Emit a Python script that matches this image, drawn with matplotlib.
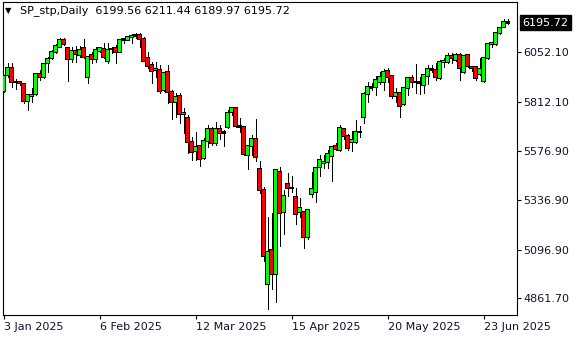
import matplotlib
matplotlib.use('Agg')
import matplotlib.pyplot as plt
import matplotlib.transforms as mtransforms
import numpy as np
import pandas as pd

# daily bars, every weekday except Good Friday
dates = [d for d in pd.bdate_range('2025-01-03', '2025-07-01') if d != pd.Timestamp('2025-04-18')]

opens = [5865, 5942, 5977, 5907, 5910, 5900, 5818, 5840, 5850, 5945,
         5931, 6002, 6026, 6054, 6079, 6112, 6071, 6020, 6058, 6041,
         6073, 5934, 6040, 6018, 6060, 6066, 6010, 6066, 6071, 6055,
         6112, 6112, 6124, 6130, 6136, 6116, 6023, 5991, 5966, 5966,
         5870, 5955, 5862, 5813, 5841, 5752, 5732, 5616, 5576, 5599,
         5539, 5624, 5681, 5615, 5681, 5664, 5692, 5765, 5781, 5695,
         5692, 5555, 5600, 5631, 5486, 5386, 4929, 5095, 4978, 5471,
         5278, 5415, 5397, 5350, 5278, 5278, 5160, 5366, 5378, 5499,
         5515, 5520, 5552, 5599, 5579, 5679, 5649, 5616, 5620, 5665,
         5737, 5850, 5882, 5883, 5910, 5907, 5962, 5937, 5842, 5854,
         5800, 5878, 5926, 5910, 5906, 5892, 5939, 5970, 5967, 5926,
         6004, 6007, 6034, 6015, 6039, 5955, 6039, 5980, 5983, 5946,
         5915, 6023, 6091, 6091, 6147, 6176, 6199.56]
highs = [5942, 5999, 5999, 5921, 5915, 5905, 5850, 5877, 5953, 5966,
         6002, 6031, 6063, 6092, 6120, 6120, 6079, 6079, 6084, 6084,
         6116, 6031, 6055, 6079, 6079, 6095, 6095, 6079, 6087, 6115,
         6120, 6128, 6141, 6144, 6144, 6125, 6055, 6007, 6007, 5991,
         5958, 5991, 5870, 5853, 5853, 5781, 5749, 5644, 5668, 5603,
         5636, 5700, 5692, 5716, 5700, 5676, 5773, 5786, 5786, 5732,
         5695, 5603, 5652, 5728, 5526, 5399, 5257, 5276, 5487, 5499,
         5386, 5470, 5453, 5394, 5349, 5284, 5292, 5471, 5499, 5555,
         5555, 5579, 5600, 5615, 5700, 5684, 5655, 5673, 5725, 5695,
         5862, 5910, 5905, 5937, 5955, 5971, 5975, 5942, 5878, 5862,
         5886, 5934, 5942, 5996, 5934, 5948, 5991, 5991, 5999, 6015,
         6023, 6047, 6050, 6050, 6047, 6039, 6044, 5986, 5986, 6023,
         6026, 6096, 6104, 6149, 6176, 6213, 6211.44]
lows = [5862, 5931, 5886, 5873, 5894, 5805, 5773, 5813, 5845, 5918,
        5928, 5958, 6018, 6047, 6076, 6087, 5915, 6007, 6007, 6031,
        6023, 5905, 5999, 6007, 6055, 6023, 6000, 6047, 5999, 6052,
        6099, 6112, 6095, 6120, 6079, 6008, 5974, 5905, 5931, 5857,
        5866, 5808, 5729, 5741, 5708, 5660, 5563, 5531, 5531, 5503,
        5534, 5595, 5603, 5603, 5631, 5599, 5684, 5749, 5689, 5668,
        5555, 5487, 5555, 5526, 5373, 5044, 4812, 4907, 4845, 5116,
        5173, 5358, 5378, 5221, 5257, 5103, 5147, 5353, 5329, 5455,
        5491, 5494, 5431, 5579, 5576, 5631, 5579, 5576, 5615, 5641,
        5712, 5813, 5870, 5846, 5899, 5870, 5910, 5829, 5813, 5741,
        5797, 5846, 5883, 5854, 5850, 5857, 5899, 5958, 5918, 5923,
        5983, 5999, 5999, 6012, 5918, 5950, 5979, 5963, 5918, 5942,
        5910, 6020, 6079, 6087, 6141, 6173, 6189.97]
closes = [5937, 5977, 5907, 5910, 5905, 5818, 5844, 5846, 5945, 5931,
          5995, 6020, 6052, 6083, 6112, 6092, 6018, 6058, 6042, 6063,
          6028, 6028, 6018, 6063, 6071, 6028, 6063, 6068, 6055, 6112,
          6114, 6124, 6130, 6134, 6115, 6012, 5987, 5963, 5973, 5866,
          5950, 5862, 5813, 5837, 5752, 5760, 5620, 5571, 5592, 5534,
          5624, 5679, 5615, 5679, 5663, 5668, 5760, 5781, 5695, 5692,
          5558, 5600, 5631, 5544, 5386, 5068, 5085, 4978, 5483, 5273,
          5358, 5397, 5394, 5268, 5297, 5157, 5289, 5389, 5491, 5531,
          5523, 5560, 5592, 5584, 5684, 5649, 5587, 5628, 5665, 5668,
          5850, 5883, 5886, 5918, 5931, 5958, 5934, 5842, 5854, 5794,
          5878, 5926, 5910, 5907, 5902, 5942, 5970, 5967, 5931, 6007,
          6012, 6034, 6023, 6039, 5975, 6034, 5986, 5975, 5926, 5971,
          6023, 6091, 6099, 6144, 6168, 6197, 6195.72]

price_ticks = [6052.10, 5812.10, 5576.90, 5336.90, 5096.90, 4861.70]
tick_dates = ['2025-01-03', '2025-02-06', '2025-03-12', '2025-04-15', '2025-05-20', '2025-06-23']
tick_labels = ['3 Jan 2025', '6 Feb 2025', '12 Mar 2025', '15 Apr 2025', '20 May 2025', '23 Jun 2025']
title = 'SP_stp,Daily  6199.56 6211.44 6189.97 6195.72'
last_price = closes[-1]

W, H = 580, 340
fig = plt.figure(figsize=(W / 100, H / 100), dpi=100)
fig.patch.set_facecolor('white')
ax = fig.add_axes([2.5 / W, 1 - 315 / H, 514 / W, 313 / H])

ymin, ymax = 4781, 6295.5
px = (ymax - ymin) / 313.0   # price per screen pixel

x = np.arange(len(opens))
o = np.array(opens, dtype=float)
c = np.array(closes, dtype=float)
up = c >= o
cols = np.where(up, '#00ff00', '#ff0000')
bot = np.minimum(o, c)
top = np.maximum(o, c)

ax.vlines(x, lows, highs, color='black', lw=0.72, antialiased=False, zorder=2)
# black outline block (3 px) with a 1 px coloured core
ax.bar(x, np.maximum(top - bot, 0) + px * 1.1, bottom=bot - px * 0.55, width=0.8,
       color='black', linewidth=0, antialiased=False, snap=False, zorder=3)
core_h = np.maximum(top - bot - px * 0.9, 0)
ax.bar(x, core_h, bottom=bot + px * 0.45, width=0.3, color=cols, linewidth=0,
       antialiased=False, snap=False, zorder=4)

ax.set_xlim(-0.25, 128.25)
ax.set_ylim(ymin, ymax)

for s in ax.spines.values():
    s.set_linewidth(0.8)
    s.set_color('black')

ax.yaxis.tick_right()
ax.set_yticks(price_ticks)
ax.set_yticklabels(['%.2f' % v for v in price_ticks])
ax.tick_params(axis='y', length=3, width=0.8, pad=2, labelsize=8, labelcolor='#101030')

date_idx = [dates.index(pd.Timestamp(d)) for d in tick_dates]
ax.set_xticks(date_idx)
ax.set_xticklabels(tick_labels)
ax.tick_params(axis='x', length=3, width=0.8, pad=2, labelsize=8, labelcolor='#101030')
for lab in ax.get_xticklabels():
    lab.set_ha('left')

# current price marker on the price scale
trans = mtransforms.blended_transform_factory(ax.transAxes, ax.transData)
ax.text(1.012, last_price, '%.2f' % last_price, transform=trans, ha='left', va='center',
        fontsize=8, color='white',
        bbox=dict(boxstyle='square,pad=0.2', facecolor='black', edgecolor='black'))

fig.text(5 / W, 1 - 11 / H, '\u25BC', fontsize=6, va='center', ha='left')
fig.text(20 / W, 1 - 11 / H, title, fontsize=8, va='center', ha='left', color='black')

plt.savefig('out.png', dpi=100, facecolor='white')
